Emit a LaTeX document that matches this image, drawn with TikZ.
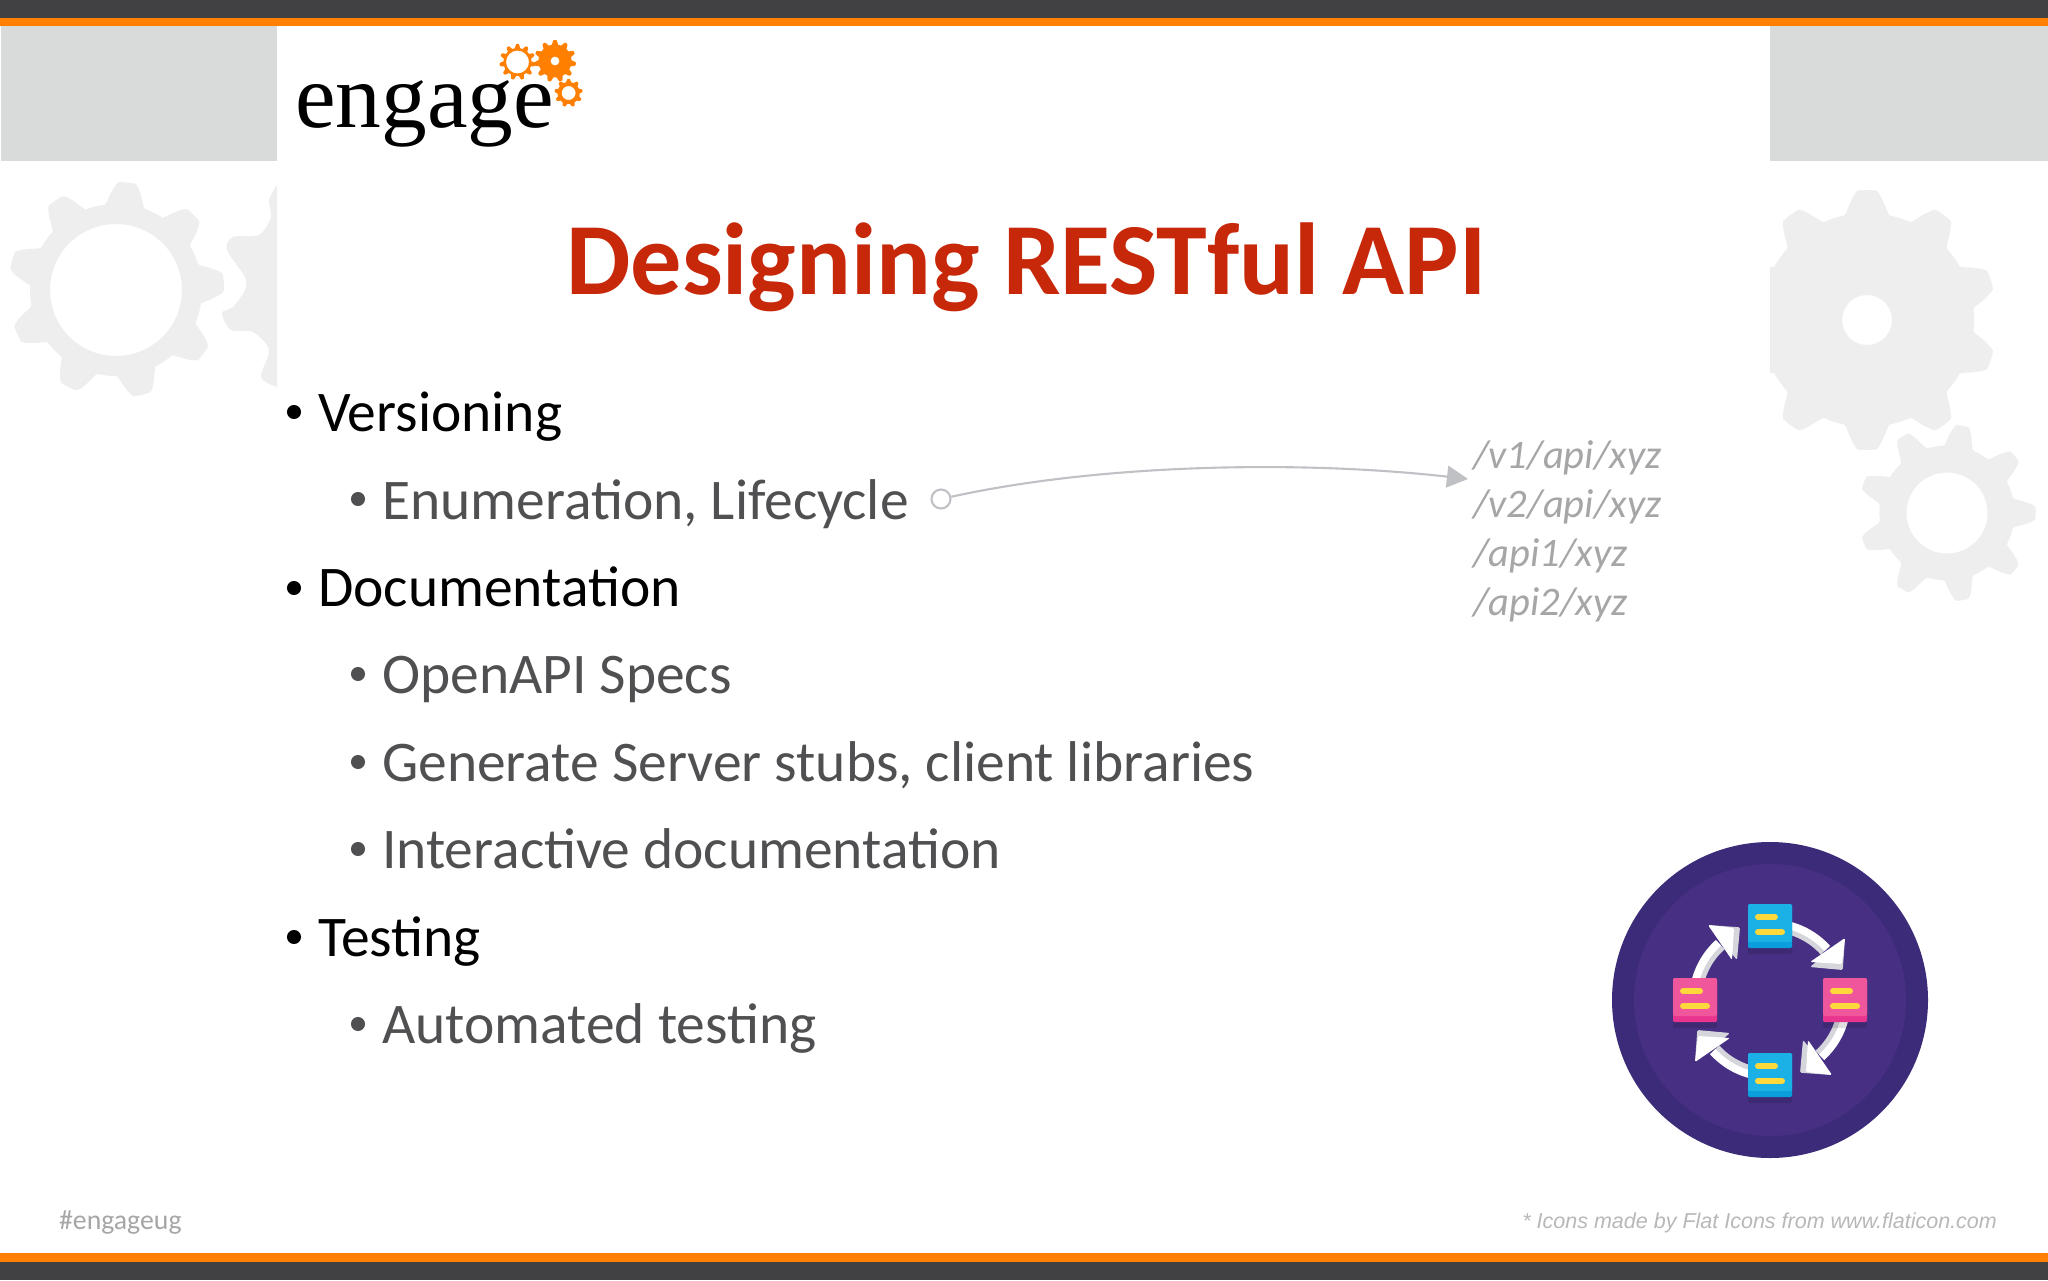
\documentclass[tikz,border=0pt]{standalone}
\usepackage{fontspec}
\setmainfont{Carlito}
\newfontfamily\notefont{Liberation Sans}
\newfontfamily\logofont{Liberation Serif}
\usetikzlibrary{arrows.meta}
\definecolor{barDark}{HTML}{414042}
\definecolor{barOrange}{HTML}{FF8000}
\definecolor{panelGray}{HTML}{D9DADA}
\definecolor{gearGray}{HTML}{EEEEEF}
\definecolor{titleRed}{HTML}{C8280A}
\definecolor{subGray}{HTML}{505052}
\definecolor{apiGray}{HTML}{A6A6A8}
\definecolor{discOuter}{HTML}{3B2B78}
\definecolor{discInner}{HTML}{473083}
\definecolor{noteBlue}{HTML}{1BB0E6}
\definecolor{noteBlueDark}{HTML}{0A9FDC}
\definecolor{notePink}{HTML}{F0569B}
\definecolor{notePinkDark}{HTML}{E8358F}
\definecolor{noteYellow}{HTML}{FFD93B}
\definecolor{arrowSide}{HTML}{D5D6DB}
% gear: x, y, outer radius, root radius, teeth, phase, hole radius, colour
\newcommand{\geardraw}[8]{
	\fill[#8, even odd rule] plot[domain=0:360, samples=241, variable=\t]
		({#1 + gearrad(\t,#3,#4,#5,#6) * cos(\t)}, {#2 + gearrad(\t,#3,#4,#5,#6) * sin(\t)}) -- cycle
		(#1, #2) circle[radius=#7];
}
\tikzset{
	x=0.05cm, y=0.05cm,
	declare function={
		gearrad(\a,\b,\c,\d,\e) = (\b + \c) / 2 + (\b - \c) / 2 * max(-1, min(1, 1.7 * cos(\d * (\a - \e)) - 0.25));
	},
	headtext/.style={anchor=base west, font=\fontsize{145.5}{150}\selectfont\bfseries, text=titleRed, inner sep=0},
	itemone/.style={anchor=base west, font=\fontsize{81.8}{85}\selectfont, text=black, inner sep=0},
	itemtwo/.style={anchor=base west, font=\fontsize{81.8}{85}\selectfont, text=subGray, inner sep=0},
	apitext/.style={anchor=base west, font=\fontsize{57.6}{60}\selectfont\itshape, text=apiGray, inner sep=0},
	dotone/.style={circle, fill=black, inner sep=0, minimum size=20pt},
	dottwo/.style={circle, fill=subGray, inner sep=0, minimum size=20pt},
}
\begin{document}
\begin{tikzpicture}
	\useasboundingbox (0, 0) rectangle (2048, -1280);
	\fill[white] (0, 0) rectangle (2048, -1280);
	% top and bottom bars
	\fill[barDark] (0, 0) rectangle (2048, -18);
	\fill[barOrange] (0, -18) rectangle (2048, -26);
	\fill[barOrange] (0, -1253) rectangle (2048, -1262);
	\fill[barDark] (0, -1262) rectangle (2048, -1280);
	% gray panels
	\fill[panelGray] (1, -26) rectangle (277, -161);
	\fill[panelGray] (1770, -26) rectangle (2048, -161);
	% gears on the left
	\geardraw{116}{-290}{108}{86}{9}{84}{66}{gearGray}
	\fill[gearGray] plot[smooth, tension=0.5] coordinates {(277, -185) (269, -200) (271, -217) (259, -235) (233, -237) (227, -250) (245, -277) (245, -290) (233, -307) (222, -313) (231, -330) (253, -332) (269, -350) (261, -377) (277, -387)} -- cycle;
	% gears on the right
	\begin{scope}
		\clip (1770, -161) rectangle (2048, -640);
		\geardraw{1867}{-320}{130}{107}{10}{90}{25}{gearGray}
	\end{scope}
	\geardraw{1947}{-513}{90}{69}{9}{0}{39}{gearGray, draw=white, line width=4pt}
	% logo
	\node[anchor=base west, inner sep=0, font=\fontsize{130}{132}\selectfont\logofont] (logo) at (295, -127) {engage};
	\geardraw{517.5}{-62}{18}{14}{11}{90}{11.5}{barOrange}
	\geardraw{555}{-61}{21}{16.5}{11}{90}{4.5}{barOrange}
	\geardraw{568.6}{-93}{14}{11}{9}{90}{7}{barOrange}
	% title
	\node[headtext] (title) at (566, -294) {Designing RESTful API};
	% the list
	\node[dotone] (dotA) at (294, -412) {};
	\node[itemone] (itemA) at (318, -431) {Versioning};
	\node[dottwo] (dotB) at (358, -499) {};
	\node[itemtwo] (itemB) at (382, -519) {Enumeration, Lifecycle};
	\node[dotone] (dotC) at (294, -588) {};
	\node[itemone] (itemC) at (318, -606) {Documentation};
	\node[dottwo] (dotD) at (358, -674) {};
	\node[itemtwo] (itemD) at (382, -693) {OpenAPI Specs};
	\node[dottwo] (dotE) at (358, -762) {};
	\node[itemtwo] (itemE) at (382, -781) {Generate Server stubs, client libraries};
	\node[dottwo] (dotF) at (358, -849) {};
	\node[itemtwo] (itemF) at (382, -868) {Interactive documentation};
	\node[dotone] (dotG) at (294, -937) {};
	\node[itemone] (itemG) at (318, -956) {Testing};
	\node[dottwo] (dotH) at (358, -1024) {};
	\node[itemtwo] (itemH) at (382, -1043) {Automated testing};
	% the paths
	\node[apitext] (pathA) at (1473, -468) {/v1/api/xyz};
	\node[apitext] (pathB) at (1473, -517) {/v2/api/xyz};
	\node[apitext] (pathC) at (1473, -566) {/api1/xyz};
	\node[apitext] (pathD) at (1473, -615) {/api2/xyz};
	% the arrow
	\node[circle, draw=arrowSide!90!black, line width=3pt, inner sep=0, minimum size=27pt] (ring) at (941, -499) {};
	\coordinate (tip) at (1468, -479);
	\draw[arrowSide!90!black, line width=3pt, -{Triangle[length=30pt, width=31pt]}] (ring) .. controls (1100, -464) and (1300, -460) .. (tip);
	% the disc
	\fill[discOuter] (1770, -1000) circle[radius=158];
	\fill[discInner] (1770, -1000) circle[radius=136];
	% the four arrows
	\foreach \turn in {0, -90, -180, -270} {
		\begin{scope}[shift={(1770, -1000)}, rotate=\turn]
			\draw[arrowSide, line width=14pt] (82:73) arc[start angle=82, end angle=42, radius=73];
			\draw[white, line width=11pt] (82:77) arc[start angle=82, end angle=42, radius=77];
			\fill[arrowSide, rounded corners=2pt] (75, 62) -- (40, 33) -- (72.7, 30) -- cycle;
			\fill[white, rounded corners=2pt] (75, 62) -- (40, 38) -- (72, 36) -- cycle;
		\end{scope}
	}
	% the four notes
	\foreach \nx/\ny/\nfill/\nband in {1770/-926/noteBlue/noteBlueDark, 1845/-1000/notePink/notePinkDark, 1695/-1000/notePink/notePinkDark, 1770/-1075/noteBlue/noteBlueDark} {
		\fill[black, opacity=0.12, rounded corners=2pt] (\nx - 22, \ny - 22) rectangle (\nx + 22, \ny - 28);
		\fill[\nband, rounded corners=2pt] (\nx - 22, \ny + 22) rectangle (\nx + 22, \ny - 22);
		\fill[\nfill, rounded corners=2pt] (\nx - 22, \ny + 22) rectangle (\nx + 22, \ny - 16);
		\draw[noteYellow, line width=8.5pt, line cap=round] (\nx - 12, \ny + 9) -- (\nx + 5, \ny + 9);
		\draw[noteYellow, line width=8.5pt, line cap=round] (\nx - 12, \ny - 6) -- (\nx + 12, \ny - 6);
	}
	% footer
	\node[anchor=base west, inner sep=0, text=apiGray, font=\fontsize{39.5}{42}\selectfont] (tag) at (59, -1229) {\#engageug};
	\node[anchor=base east, inner sep=0, text=apiGray!80, font=\fontsize{30.6}{34}\selectfont\notefont\itshape] (credit) at (1997, -1228) {* Icons made by Flat Icons from www.flaticon.com};
\end{tikzpicture}
\end{document}
